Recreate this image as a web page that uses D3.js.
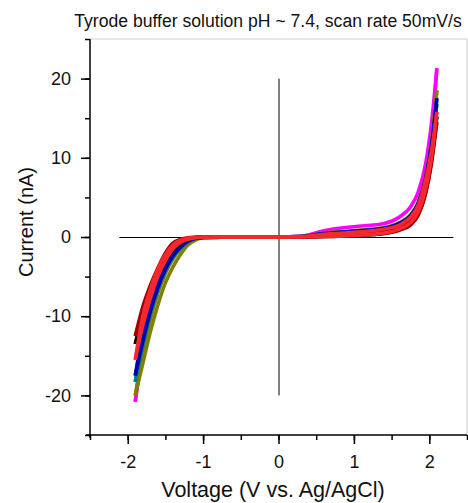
<!DOCTYPE html>
<html>
<head>
<meta charset="utf-8">
<script src="https://cdn.jsdelivr.net/npm/d3@7"></script>
<style>
	body { margin: 0; background: #fff; }
	svg text { font-family: "Liberation Sans", Arial, sans-serif; fill: #111; }
</style>
</head>
<body>
<div id="chart"></div>
<script>
// voltage grid shared by all the cycles (V vs. Ag/AgCl)
const VOLTAGE = [-1.9, -1.8, -1.7, -1.6, -1.5, -1.4, -1.3, -1.2, -1.1, -1.0, -0.5, 0, 0.3, 0.6, 1.0, 1.4, 1.6, 1.75, 1.85, 1.95, 2.03, 2.1]

// current (nA), two branches per cycle
const OLIVE_HI = [-20, -14.6, -10.4, -7.1, -4.6, -2.8, -1.5, -0.7, -0.25, -0.05, 0, 0, 0.05, 0.5, 0.8, 1.2, 1.8, 2.8, 4.3, 7.6, 12.2, 18.5]
const OLIVE_LO = [-20, -16.0, -12.0, -8.6, -5.8, -3.8, -2.2, -1.0, -0.4, -0.1, 0, 0, 0, 0.2, 0.45, 0.8, 1.3, 2.2, 3.6, 6.8, 11.2, 18.5]
const MAGENTA_HI = [-20.8, -13.6, -9.2, -6.0, -3.7, -2.1, -1.0, -0.4, -0.12, -0.03, 0, 0, 0.1, 0.8, 1.3, 1.7, 2.5, 3.8, 5.6, 9.2, 14.5, 21.3]
const MAGENTA_LO = [-20.8, -14.6, -10.2, -6.9, -4.4, -2.7, -1.5, -0.65, -0.22, -0.07, 0, 0, 0, 0.3, 0.6, 1.0, 1.6, 2.6, 4.2, 7.5, 12.5, 21.3]
const CYAN_HI = [-18.3, -12.6, -8.6, -5.7, -3.5, -2.0, -1.0, -0.4, -0.12, -0.03, 0, 0, 0.05, 0.45, 0.75, 1.1, 1.7, 2.7, 4.1, 7.3, 11.6, 16.8]
const CYAN_LO = [-18.3, -13.8, -9.8, -6.7, -4.3, -2.6, -1.4, -0.6, -0.2, -0.06, 0, 0, 0, 0.15, 0.4, 0.7, 1.2, 2.1, 3.4, 6.4, 10.5, 16.8]
const BLUE_HI = [-17.5, -12.0, -8.2, -5.4, -3.3, -1.8, -0.9, -0.35, -0.1, -0.03, 0, 0, 0.05, 0.45, 0.75, 1.1, 1.7, 2.7, 4.2, 7.4, 11.8, 17.5]
const BLUE_LO = [-17.5, -13.2, -9.4, -6.4, -4.1, -2.4, -1.3, -0.55, -0.18, -0.05, 0, 0, 0, 0.15, 0.4, 0.7, 1.2, 2.0, 3.4, 6.5, 10.8, 17.5]
const BLACK_HI = [-13.5, -9.6, -6.7, -4.3, -2.5, -1.2, -0.5, -0.2, -0.06, -0.02, 0, 0, 0.02, 0.3, 0.55, 0.9, 1.4, 2.2, 3.5, 6.5, 10.5, 15.2]
const BLACK_LO = [-13.5, -10.5, -7.5, -5.0, -3.1, -1.7, -0.8, -0.3, -0.1, -0.03, 0, 0, 0, 0.05, 0.2, 0.45, 0.9, 1.6, 2.8, 5.6, 9.6, 15.2]
const DARKRED_HI = [-12.5, -8.8, -6.1, -3.9, -2.0, -0.75, -0.3, -0.1, -0.03, 0, 0, 0, 0.02, 0.25, 0.5, 0.85, 1.35, 2.1, 3.4, 6.3, 10.2, 14.5]
const DARKRED_LO = [-12.5, -9.6, -7.0, -4.7, -2.7, -1.2, -0.5, -0.2, -0.06, -0.02, 0, 0, 0, 0.05, 0.2, 0.45, 0.85, 1.5, 2.7, 5.4, 9.3, 14.5]
const RED_HI = [-15.5, -10.0, -6.6, -4.0, -2.2, -1.0, -0.4, -0.15, -0.05, 0, 0, 0, 0.05, 0.35, 0.6, 1.0, 1.5, 2.5, 4.0, 7.2, 11.0, 15.8]
const RED_LO = [-15.5, -11.2, -7.8, -5.0, -3.0, -1.5, -0.7, -0.3, -0.1, -0.04, 0, 0, 0, 0.05, 0.2, 0.5, 1.0, 1.8, 3.1, 6.0, 10.0, 15.8]

// draw order: last one ends up on top
const CYCLES = [
	{color: "#ff00ff", branches: [MAGENTA_HI, MAGENTA_LO]},
	{color: "#808000", branches: [OLIVE_HI, OLIVE_LO]},
	{color: "#008080", branches: [CYAN_HI, CYAN_LO]},
	{color: "#0000b0", branches: [BLUE_HI, BLUE_LO]},
	{color: "#000000", branches: [BLACK_HI, BLACK_LO]},
	{color: "#a00000", branches: [DARKRED_HI, DARKRED_LO]},
	{color: "#f4282e", branches: [RED_HI, RED_LO]}
]

const X_TICKS = [-2, -1, 0, 1, 2]
const Y_TICKS = [-20, -10, 0, 10, 20]
const TITLE = "Tyrode buffer solution pH ~ 7.4, scan rate 50mV/s"

function drawChart() {
	const width = 468
	const height = 503
	const margin = ({top: 39, right: 1, bottom: 68, left: 90})

	const x = d3.scaleLinear().domain([-2.5, 2.5]).range([margin.left, width - margin.right])
	const y = d3.scaleLinear().domain([-25, 25]).range([height - margin.bottom, margin.top])

	const svg = d3.select("#chart").append("svg")
		.attr("width", width)
		.attr("height", height)

	// light frame on top and right
	svg.append("path")
		.attr("d", `M${x(-2.5)},${y(25)}H${x(2.5)}V${y(-25)}`)
		.attr("fill", "none")
		.attr("stroke", "#d0d0d0")
		.attr("stroke-width", 1)

	// zero lines
	svg.append("line")
		.attr("x1", x(-2.11)).attr("x2", x(2.32))
		.attr("y1", y(0) + 0.5).attr("y2", y(0) + 0.5)
		.attr("stroke", "#000").attr("stroke-width", 1)
	svg.append("line")
		.attr("x1", x(0) + 0.5).attr("x2", x(0) + 0.5)
		.attr("y1", y(20)).attr("y2", y(-20))
		.attr("stroke", "#000").attr("stroke-width", 1)

	const line = d3.line()
		.x((d, i) => x(VOLTAGE[i]))
		.y(d => y(d))
		.curve(d3.curveMonotoneX)

	CYCLES.forEach(c => {
		svg.append("g")
			.selectAll("path")
			.data(c.branches)
			.join("path")
			.attr("d", line)
			.attr("fill", "none")
			.attr("stroke", c.color)
			.attr("stroke-width", 3.5)
			.attr("stroke-linejoin", "round")
	})

	// axes, with minor ticks
	const fmt = d => String(d)
	const xAxis = g => g.attr("transform", `translate(0,${y(-25)})`)
		.call(d3.axisBottom(x).tickValues(X_TICKS).tickSize(9).tickSizeOuter(0).tickFormat(fmt))
		.call(g => g.select(".domain").attr("d", `M${x(-2.5) - 4},0H${x(2.5)}`))
		.call(g => g.selectAll(".tick text").attr("y", 33).attr("dy", 0))
	const xMinor = g => g.attr("transform", `translate(0,${y(-25)})`)
		.call(d3.axisBottom(x).tickValues(d3.range(-2.5, 2.51, 0.5)).tickSize(5).tickFormat(""))
		.call(g => g.select(".domain").remove())

	const yAxis = g => g.attr("transform", `translate(${x(-2.5)},0)`)
		.call(d3.axisLeft(y).tickValues(Y_TICKS).tickSize(9).tickSizeOuter(0).tickFormat(fmt))
		.call(g => g.select(".domain").attr("d", `M0,${y(25)}V${y(-25) + 3}`))
		.call(g => g.selectAll(".tick text").attr("x", -19))
	const yMinor = g => g.attr("transform", `translate(${x(-2.5)},0)`)
		.call(d3.axisLeft(y).tickValues(d3.range(-25, 25.1, 5)).tickSize(5).tickFormat(""))
		.call(g => g.select(".domain").remove())

	for (const a of [xMinor, yMinor, xAxis, yAxis]) {
		svg.append("g").call(a)
			.call(g => g.selectAll("line, path").attr("stroke", "#000").attr("stroke-width", 1.5))
			.call(g => g.selectAll("text").attr("font-size", 18).attr("font-family", "Liberation Sans, Arial, sans-serif").attr("fill", "#111"))
	}

	svg.append("text")
		.attr("x", 268)
		.attr("y", 27)
		.attr("text-anchor", "middle")
		.attr("font-size", 17.6)
		.text(TITLE)

	svg.append("text")
		.attr("x", 273)
		.attr("y", 497)
		.attr("text-anchor", "middle")
		.attr("font-size", 21.5)
		.text("Voltage (V vs. Ag/AgCl)")

	svg.append("text")
		.attr("transform", `translate(33,${222}) rotate(-90)`)
		.attr("text-anchor", "middle")
		.attr("font-size", 20)
		.text("Current (nA)")
}

drawChart()
</script>
</body>
</html>
